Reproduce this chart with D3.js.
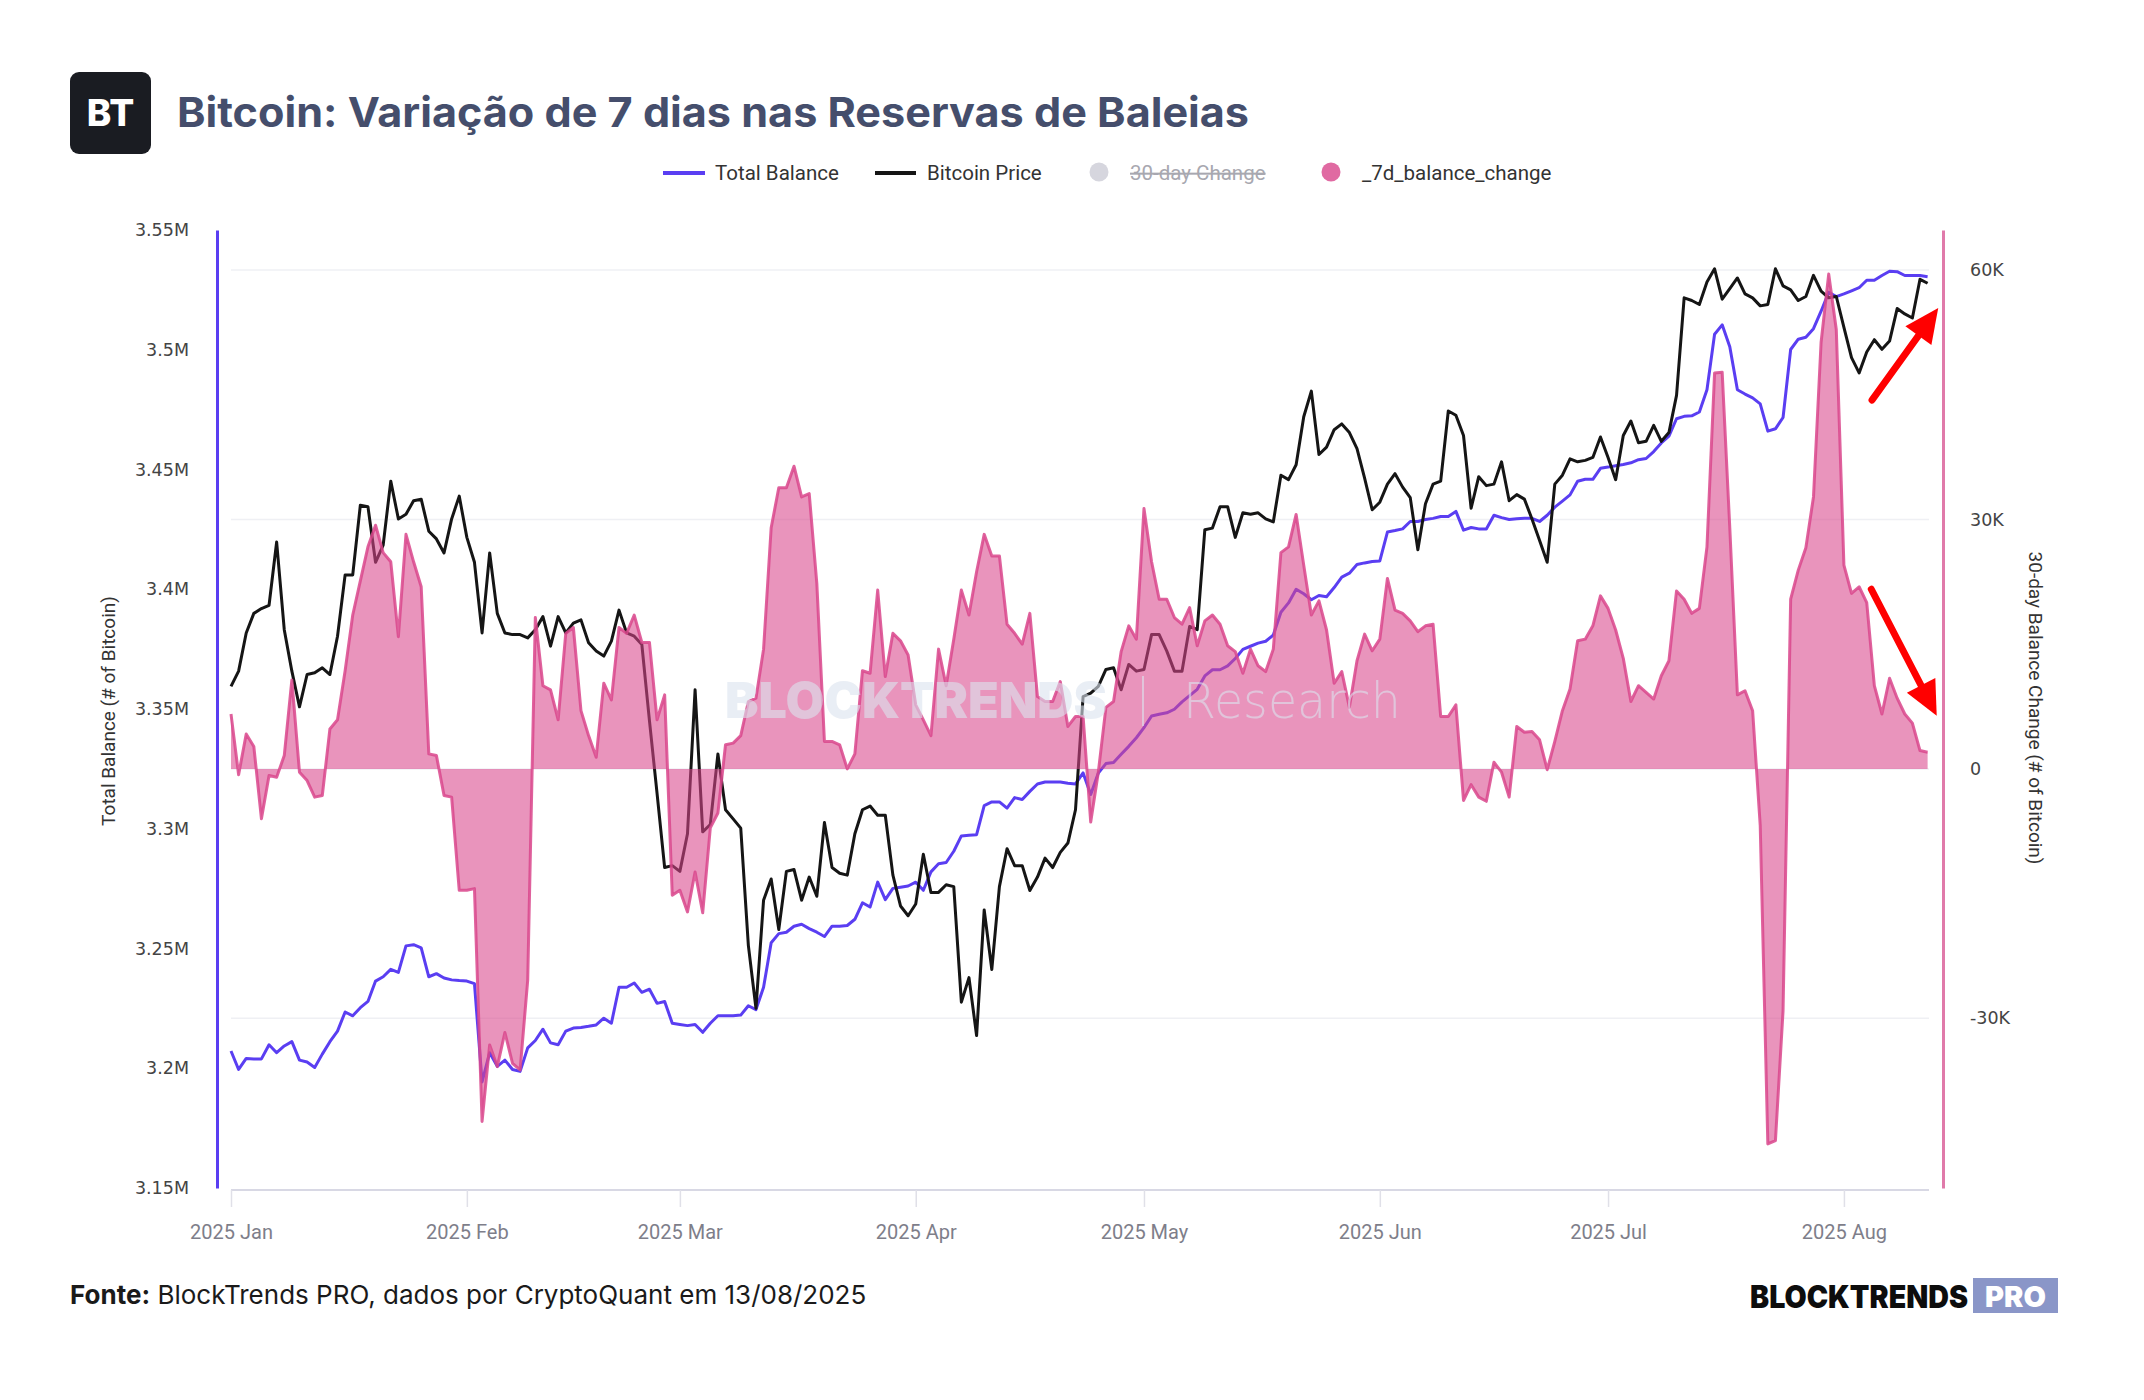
<!DOCTYPE html>
<html>
<head>
<meta charset="utf-8">
<script src="https://cdn.jsdelivr.net/npm/d3@7"></script>
<style>
  body { margin: 0; background: #fff; }
  svg text { font-family: Roboto, "Noto Sans", sans-serif; }
</style>
</head>
<body>
<div id="chart"></div>
<script>
////////////////////////////////////////////////////////////
//////////////////////// Data //////////////////////////////
////////////////////////////////////////////////////////////
// one value per day, starting 2025-01-01
var startDate = "2025-01-01";

// Total Balance (# of Bitcoin)
var totalBalance = [
  3207200,3199500,3204100,3203900,3203900,3209800,3206500,3209300,3211100,3203400,
  3202600,3200300,3205900,3211100,3215500,3223500,3221900,3225300,3227900,3236400,
  3238200,3241300,3240000,3251100,3251600,3250300,3238200,3239500,3237700,3236900,
  3236600,3236400,3235300,3194300,3206500,3200800,3203400,3199500,3198700,3208500,
  3211600,3216300,3210600,3209800,3215500,3216800,3217000,3217500,3218100,3220900,
  3218800,3233800,3233800,3235600,3231700,3233000,3227100,3227900,3218800,3218300,
  3217800,3218300,3215000,3218800,3221900,3221900,3221900,3222200,3226100,3224500,
  3233800,3252400,3256200,3256800,3259300,3260100,3258300,3256800,3255000,3259300,
  3259300,3259600,3262200,3269100,3267300,3277700,3270400,3275100,3275600,3276100,
  3277700,3274300,3282000,3285400,3285900,3290600,3297000,3297300,3297500,3309700,
  3311200,3311200,3308600,3313000,3312200,3315600,3318700,3319500,3319500,3319500,
  3319000,3318700,3323300,3314300,3323300,3327200,3327700,3331100,3334400,3338000,
  3342200,3347100,3347800,3348400,3349900,3353000,3355600,3358200,3363800,3366400,
  3366400,3368000,3371100,3374900,3376200,3377500,3378300,3380900,3390400,3394300,
  3400000,3398100,3395600,3397400,3396900,3400700,3405100,3406700,3410300,3411000,
  3411600,3411800,3423900,3424500,3425200,3428300,3428300,3429100,3429600,3430400,
  3430400,3432500,3424700,3425800,3425200,3425200,3430900,3429900,3429100,3429400,
  3429600,3429600,3428300,3430900,3434300,3436800,3439400,3445100,3445900,3445900,
  3450500,3451000,3451600,3452100,3452800,3454100,3454600,3457500,3461100,3463900,
  3471200,3472200,3472400,3474000,3483300,3506500,3510400,3501300,3483300,3481500,
  3479900,3477400,3466000,3467000,3471700,3500100,3504400,3505200,3508800,3516100,
  3524000,3522200,3523300,3524600,3525900,3529000,3529000,3531000,3532800,3532600,
  3531000,3531000,3531000,3530500
];

// Bitcoin Price (USD), plotted on a hidden log axis
var bitcoinPrice = [
  94800,95700,98000,99200,99500,99700,103700,98200,95700,93600,
  95500,95600,95900,95500,97800,101600,101600,106100,106000,102400,
  103500,107700,105200,105500,106400,106500,104400,103900,103000,105200,
  106700,104000,102400,98000,103000,99200,98000,97900,97900,97700,
  98200,99000,97200,99000,98000,98600,98800,97400,96900,96600,
  97500,99400,98000,97800,97300,92800,88700,84700,84800,84500,
  86500,94600,86600,87000,90900,87800,87300,86800,80700,77600,
  83000,84100,81500,84500,84600,83000,84200,83200,87100,84700,
  84400,84300,86500,87800,88000,87500,87500,84300,82700,82200,
  82800,85400,83400,83400,83800,83700,77900,79100,76300,82500,
  79500,83700,85700,84800,84800,83500,84200,85200,84700,85500,
  86000,87800,94200,94400,94800,95800,95900,94600,96100,95700,
  95800,97900,97900,96900,95700,95700,98400,98200,104500,104600,
  106000,106000,104000,105600,105500,105600,105200,105000,108100,107800,
  108800,112100,113900,109500,110000,111200,111600,111000,109900,107900,
  105800,106300,107500,108200,107300,106600,103200,106200,107500,107700,
  112500,112200,110800,105900,108000,107400,107500,109000,106400,106800,
  106500,105200,103800,102400,107500,108100,109200,109000,109100,109300,
  110700,109300,107800,110800,111800,110300,110400,111500,110400,111000,
  113600,120700,120500,120200,121900,122900,120600,121400,122200,121000,
  120700,120100,120200,122900,121600,121300,120500,120800,122400,121200,
  120700,120800,118500,116300,115200,116700,117600,116900,117500,119900,
  119500,119200,122100,121800
];

// _7d_balance_change (thousands of Bitcoin)
var balanceChange7d = [
  6.6,-0.7,4.2,2.7,-6.0,-0.8,-1.0,1.6,10.7,-0.4,
  -1.4,-3.4,-3.2,4.8,5.9,11.8,18.5,22.6,26.7,29.3,
  26.0,24.9,15.9,28.2,24.9,21.9,1.8,1.6,-3.2,-3.4,
  -14.6,-14.6,-14.4,-42.4,-33.2,-35.8,-31.7,-35.4,-36.2,-25.4,
  18.2,10.0,9.5,5.9,16.3,17.0,7.0,4.0,1.4,10.3,
  8.3,17.0,16.3,18.5,15.2,15.2,5.9,8.9,-15.2,-14.6,
  -17.2,-12.4,-17.3,-7.1,-5.3,2.9,3.1,4.0,8.1,8.5,
  14.4,29.0,33.8,33.8,36.4,32.7,33.1,22.3,3.3,3.3,
  2.9,0.0,1.8,11.8,11.5,21.5,11.1,16.3,15.4,13.7,
  7.7,5.9,4.0,14.4,10.0,15.6,21.5,18.5,23.7,28.2,
  25.6,25.6,17.4,16.3,15.0,18.7,8.7,8.1,8.1,10.5,
  5.1,6.3,6.3,-6.4,-0.4,7.4,8.1,14.1,17.2,15.6,
  31.3,24.9,20.4,20.4,18.2,17.4,19.4,14.8,17.8,18.5,
  17.4,14.8,14.1,11.5,14.4,12.4,11.7,14.4,26.0,26.7,
  30.6,24.5,18.5,20.2,16.7,10.3,11.7,7.4,13.0,16.2,
  14.2,15.6,22.9,19.1,18.7,17.8,16.5,17.2,17.4,6.3,
  6.3,7.7,-3.8,-1.9,-3.4,-3.9,0.8,-0.4,-3.4,5.1,
  4.4,4.5,3.5,-0.1,3.3,7.0,9.6,15.4,15.6,17.2,
  20.8,19.3,16.7,13.3,8.1,10.0,9.2,8.4,11.2,13.0,
  21.4,20.4,18.7,19.3,26.7,47.6,47.7,29.0,8.9,9.4,
  7.0,-6.8,-45.1,-44.7,-29.1,20.4,23.9,26.6,32.7,51.3,
  59.5,52.8,24.5,21.1,21.9,20.0,10.0,6.6,10.9,8.5,
  6.6,5.5,2.2,2.0
];

// Axis ticks
var monthTicks  = ["2025-01-01","2025-02-01","2025-03-01","2025-04-01","2025-05-01","2025-06-01","2025-07-01","2025-08-01"];
var monthLabels = ["2025 Jan","2025 Feb","2025 Mar","2025 Apr","2025 May","2025 Jun","2025 Jul","2025 Aug"];
var balanceTicks = [3150000,3200000,3250000,3300000,3350000,3400000,3450000,3500000,3550000];
var balanceTickLabels = ["3.15M","3.2M","3.25M","3.3M","3.35M","3.4M","3.45M","3.5M","3.55M"];
var changeTicks = [-30, 0, 30, 60];
var changeTickLabels = ["-30K","0","30K","60K"];

// Axis domains
var balanceDomain = [3150000, 3550000];
var changeDomain  = [-50.4, 64.8];
var priceDomain   = [69400, 125900];

// Red arrows: [day index, value] tail -> head
var arrowUp   = { from: [215.7, 3479000], to: [224.4, 3517400] };   // balance axis
var arrowDown = { from: [215.6, 21.6],    to: [224.2, 6.4] };       // change axis

////////////////////////////////////////////////////////////
//////////////////////// Set-Up ////////////////////////////
////////////////////////////////////////////////////////////
var width = 2144, height = 1400;
var plot = { left: 231, right: 1927.6, top: 230, bottom: 1188 };

var colors = {
  balance: '#5a3ef2',
  price: '#151515',
  change: '#d9468c',
  title: '#454e6c'
};

var svg = d3.select('#chart').append('svg')
  .attr('width', width)
  .attr('height', height);

var t0 = d3.utcParse('%Y-%m-%d')(startDate);
var days = totalBalance.map(function(d, i) { return d3.utcDay.offset(t0, i); });

var x = d3.scaleUtc()
  .domain([days[0], days[days.length - 1]])
  .range([plot.left, plot.right]);
var yBal = d3.scaleLinear().domain(balanceDomain).range([plot.bottom, plot.top]);
var yChg = d3.scaleLinear().domain(changeDomain).range([plot.bottom, plot.top]);
var yPrice = d3.scaleLog().domain(priceDomain).range([plot.bottom, plot.top]);

function dayX(idx) { return x(days[0]) + (x(days[1]) - x(days[0])) * idx; }

////////////////////////////////////////////////////////////
//////////////////////// Header ////////////////////////////
////////////////////////////////////////////////////////////
svg.append('rect')
  .attr('x', 70).attr('y', 72).attr('width', 81).attr('height', 82)
  .attr('rx', 9).style('fill', '#1a1c22');
svg.append('text')
  .attr('x', 110.5).attr('y', 126)
  .attr('text-anchor', 'middle')
  .style('font-family', 'Inter, Roboto, sans-serif')
  .style('font-weight', 800).style('font-size', '37px')
  .style('fill', '#fff')
  .text('BT');
svg.append('text')
  .attr('x', 177).attr('y', 127)
  .style('font-family', 'Inter, Roboto, sans-serif')
  .style('font-weight', 700).style('font-size', '41px')
  .style('fill', colors.title)
  .attr('textLength', 1072).attr('lengthAdjust', 'spacingAndGlyphs')
  .text('Bitcoin: Variação de 7 dias nas Reservas de Baleias');

// Legend
var legend = svg.append('g').classed('legend', true);
legend.append('line').attr('x1', 663).attr('x2', 705).attr('y1', 173).attr('y2', 173)
  .style('stroke', colors.balance).style('stroke-width', 4);
legend.append('text').attr('x', 715).attr('y', 180).text('Total Balance');
legend.append('line').attr('x1', 875).attr('x2', 916).attr('y1', 173).attr('y2', 173)
  .style('stroke', colors.price).style('stroke-width', 4);
legend.append('text').attr('x', 927).attr('y', 180).text('Bitcoin Price');
legend.append('circle').attr('cx', 1099).attr('cy', 172).attr('r', 9.5).style('fill', '#d6d6de');
legend.append('text').attr('x', 1130).attr('y', 180).text('30-day Change')
  .style('fill', '#a8a8b0').style('text-decoration', 'line-through');
legend.append('circle').attr('cx', 1331).attr('cy', 172).attr('r', 9.5).style('fill', '#e06aa2');
legend.append('text').attr('x', 1362).attr('y', 180).text('_7d_balance_change');
legend.selectAll('text').style('font-size', '20.5px').filter(function() { return !this.style.fill; })
  .style('fill', '#333');

////////////////////////////////////////////////////////////
//////////////////////// Axes //////////////////////////////
////////////////////////////////////////////////////////////
// gridlines on the right axis ticks
svg.append('g').classed('grid', true)
  .selectAll('line')
  .data(changeTicks)
  .enter().append('line')
  .attr('x1', plot.left).attr('x2', 1929)
  .attr('y1', function(d) { return yChg(d); })
  .attr('y2', function(d) { return yChg(d); })
  .style('stroke', '#eff0f4').style('stroke-width', 1.5);

// x axis
var xAxis = d3.axisBottom(x)
  .tickValues(monthTicks.map(function(d) { return d3.utcParse('%Y-%m-%d')(d); }))
  .tickFormat(function(d, i) { return monthLabels[i]; })
  .tickSize(17).tickSizeOuter(0).tickPadding(18);
var gx = svg.append('g').attr('transform', 'translate(0,1190)').call(xAxis);
gx.select('.domain').attr('d', 'M' + plot.left + ',0H1929').style('stroke', '#d8d8e4').style('stroke-width', 2);
gx.selectAll('.tick line').style('stroke', '#e0e0e8').style('stroke-width', 1.5);
gx.selectAll('.tick text').style('font-size', '20px').style('fill', '#7e7e8a')
  .style('font-family', 'Roboto, sans-serif');

// left axis
var leftAxis = d3.axisLeft(yBal)
  .tickValues(balanceTicks)
  .tickFormat(function(d, i) { return balanceTickLabels[i]; })
  .tickSize(0).tickPadding(28);
var gl = svg.append('g').attr('transform', 'translate(217,0)').call(leftAxis);
gl.select('.domain').style('stroke', colors.balance).style('stroke-width', 3);
gl.selectAll('.tick text').style('font-family', '"DejaVu Sans", sans-serif')
  .style('font-size', '17.5px').style('fill', '#444');

// right axis
var rightAxis = d3.axisRight(yChg)
  .tickValues(changeTicks)
  .tickFormat(function(d, i) { return changeTickLabels[i]; })
  .tickSize(0).tickPadding(27);
var gr = svg.append('g').attr('transform', 'translate(1943,0)').call(rightAxis);
gr.select('.domain').style('stroke', '#e07aaa').style('stroke-width', 3);
gr.selectAll('.tick text').style('font-family', '"DejaVu Sans", sans-serif')
  .style('font-size', '17.5px').style('fill', '#444');

// axis titles
svg.append('text')
  .attr('transform', 'translate(115,711) rotate(-90)')
  .attr('text-anchor', 'middle')
  .style('font-size', '19px').style('fill', '#333')
  .text('Total Balance (# of Bitcoin)');
svg.append('text')
  .attr('transform', 'translate(2029,708) rotate(90)')
  .attr('text-anchor', 'middle')
  .style('font-size', '19px').style('fill', '#333')
  .text('30-day Balance Change (# of Bitcoin)');

////////////////////////////////////////////////////////////
//////////////////////// Series ////////////////////////////
////////////////////////////////////////////////////////////
var balanceLine = d3.line()
  .x(function(d, i) { return x(days[i]); })
  .y(function(d) { return yBal(d); });
var priceLine = d3.line()
  .x(function(d, i) { return x(days[i]); })
  .y(function(d) { return yPrice(d); });
var changeArea = d3.area()
  .x(function(d, i) { return x(days[i]); })
  .y0(yChg(0))
  .y1(function(d) { return yChg(d); });
var changeLine = d3.line()
  .x(function(d, i) { return x(days[i]); })
  .y(function(d) { return yChg(d); });

svg.append('path').datum(totalBalance)
  .attr('d', balanceLine)
  .style('fill', 'none').style('stroke', colors.balance)
  .style('stroke-width', 3).style('stroke-linejoin', 'round');
svg.append('path').datum(bitcoinPrice)
  .attr('d', priceLine)
  .style('fill', 'none').style('stroke', colors.price)
  .style('stroke-width', 3).style('stroke-linejoin', 'round');
svg.append('path').datum(balanceChange7d)
  .attr('d', changeArea)
  .style('fill', colors.change).style('fill-opacity', 0.58);
svg.append('path').datum(balanceChange7d)
  .attr('d', changeLine)
  .style('fill', 'none').style('stroke', colors.change).style('stroke-opacity', 0.85)
  .style('stroke-width', 3).style('stroke-linejoin', 'round');

// watermark
var wm = svg.append('g').style('opacity', 0.6);
wm.append('text').attr('x', 725).attr('y', 718)
  .style('font-family', 'Inter, "DejaVu Sans", sans-serif').style('font-weight', 900)
  .style('font-size', '50px').style('fill', '#dce4ef')
  .attr('textLength', 382).attr('lengthAdjust', 'spacingAndGlyphs')
  .text('BLOCKTRENDS');
wm.append('line').attr('x1', 1143).attr('x2', 1143).attr('y1', 676).attr('y2', 726)
  .style('stroke', '#dce4ef').style('stroke-width', 2);
wm.append('text').attr('x', 1183).attr('y', 718)
  .style('font-family', '"DejaVu Sans", sans-serif').style('font-weight', 200)
  .style('font-size', '50px').style('fill', '#dce4ef')
  .attr('textLength', 218).attr('lengthAdjust', 'spacingAndGlyphs')
  .text('Research');

////////////////////////////////////////////////////////////
//////////////////////// Arrows ////////////////////////////
////////////////////////////////////////////////////////////
function drawArrow(a, yScale) {
  var x1 = dayX(a.from[0]), y1 = yScale(a.from[1]);
  var x2 = dayX(a.to[0]), y2 = yScale(a.to[1]);
  var ang = Math.atan2(y2 - y1, x2 - x1);
  var len = 34, half = 16;
  var bx = x2 - len * Math.cos(ang), by = y2 - len * Math.sin(ang);
  svg.append('line')
    .attr('x1', x1).attr('y1', y1)
    .attr('x2', bx + 4 * Math.cos(ang)).attr('y2', by + 4 * Math.sin(ang))
    .style('stroke', '#ff0000').style('stroke-width', 7).style('stroke-linecap', 'round');
  var pts = [
    [x2, y2],
    [bx + half * Math.sin(ang), by - half * Math.cos(ang)],
    [bx - half * Math.sin(ang), by + half * Math.cos(ang)]
  ];
  svg.append('polygon')
    .attr('points', pts.map(function(p) { return p.join(','); }).join(' '))
    .style('fill', '#ff0000');
}
drawArrow(arrowUp, yBal);
drawArrow(arrowDown, yChg);

////////////////////////////////////////////////////////////
//////////////////////// Footer ////////////////////////////
////////////////////////////////////////////////////////////
var foot = svg.append('text').attr('x', 70).attr('y', 1304)
  .style('font-family', 'Inter, Roboto, sans-serif').style('font-size', '26px').style('fill', '#1a1a1a');
foot.append('tspan').style('font-weight', 700).text('Fonte:');
foot.append('tspan').text(' BlockTrends PRO, dados por CryptoQuant em 13/08/2025');

svg.append('text').attr('x', 1750).attr('y', 1308)
  .style('font-family', 'Inter, "DejaVu Sans", sans-serif').style('font-weight', 900)
  .style('font-size', '31px').style('fill', '#0d0d0d')
  .attr('textLength', 218).attr('lengthAdjust', 'spacingAndGlyphs')
  .text('BLOCKTRENDS');
svg.append('rect').attr('x', 1973).attr('y', 1278).attr('width', 85).attr('height', 35)
  .style('fill', '#8a96c8');
svg.append('text').attr('x', 2015.5).attr('y', 1307)
  .attr('text-anchor', 'middle')
  .style('font-family', 'Inter, "DejaVu Sans", sans-serif').style('font-weight', 900)
  .style('font-size', '29px').style('fill', '#fff')
  .text('PRO');
</script>
</body>
</html>
